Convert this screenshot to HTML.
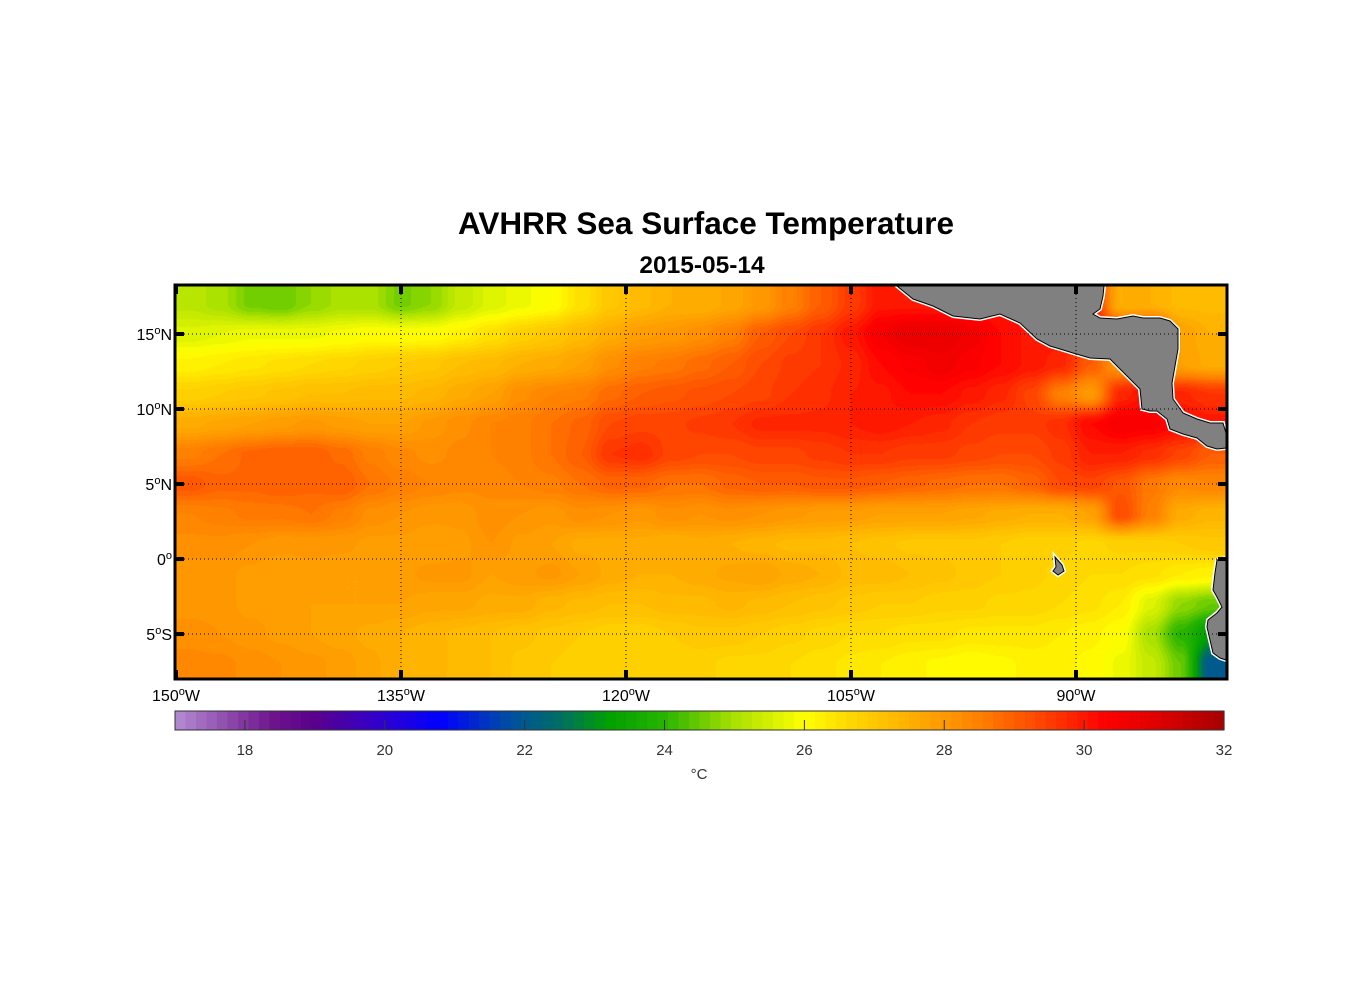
<!DOCTYPE html>
<html><head><meta charset="utf-8">
<style>
body{margin:0;background:#fff;width:1356px;height:1000px;position:relative;overflow:hidden;font-family:"Liberation Sans",Arial,sans-serif;}
.t{position:absolute;white-space:nowrap;color:#000;}
</style></head>
<body>
<div class="t" style="left:0;width:1412px;text-align:center;top:205px;font-size:31.5px;font-weight:bold;">AVHRR Sea Surface Temperature</div>
<div class="t" style="left:0;width:1404px;text-align:center;top:252px;font-size:24.5px;font-weight:bold;">2015-05-14</div>
<canvas id="map" width="1050" height="392" style="position:absolute;left:176px;top:286px;"></canvas>
<svg id="ov" width="1356" height="1000" style="position:absolute;left:0;top:0;"></svg>
<script>
const lons=[-149,-147,-145,-143,-141,-139,-137,-135,-133,-131,-129,-127,-125,-123,-121,-119,-117,-115,-113,-111,-109,-107,-105,-103,-101,-99,-97,-95,-93,-91,-89,-87,-85,-83,-81];
const lats=[17,15,13,11,9,7,5,3,1,-1,-3,-5,-7];
const sstLat17=[25.2,25.0,24.6,24.5,24.8,25.0,25.0,24.6,24.8,25.3,25.6,25.8,26.0,26.5,27.0,27.3,27.5,27.5,27.7,28.0,28.5,29.0,29.5,30.0,30,30,30,30,30,30,30,27.5,27.5,27.3,27.3];
const sstLat15=[25.6,25.7,25.8,25.8,25.8,25.9,26.0,26.0,26.0,26.2,26.5,26.8,27.0,27.3,27.6,27.9,28.0,28.2,28.5,29.0,29.3,29.6,30.0,30.5,30.8,30.8,30.6,30.2,30,30,30,30,30,27.8,27.5];
const sstLat13=[26.2,26.3,26.4,26.5,26.6,26.7,26.8,26.9,27.0,27.2,27.3,27.5,27.6,27.8,28.2,28.5,28.6,28.8,29.0,29.3,29.5,29.6,29.8,30.2,30.4,30.6,30.4,30.2,30.0,29.8,29.0,28.0,28,27.8,27.6];
const sstLat11=[26.8,26.9,27.0,27.1,27.2,27.2,27.3,27.3,27.4,27.6,27.8,28.2,28.4,28.5,28.8,29.0,29.1,29.2,29.3,29.4,29.6,29.7,29.9,30.0,30.2,30.2,30.0,29.8,29.4,28.5,28.0,29.8,30.2,29.8,29.6];
const sstLat9=[27.6,27.7,27.8,27.9,28.0,27.9,27.8,27.8,28.0,28.2,28.4,28.5,28.7,28.9,29.3,29.4,29.4,29.5,29.6,29.8,29.8,29.8,29.9,30.0,29.9,29.8,29.6,29.5,29.5,29.7,30.2,30.5,30.4,30.2,30.0];
const sstLat7=[28.5,28.7,28.9,29.0,29.0,28.8,28.5,28.3,28.2,28.3,28.4,28.5,28.7,29.0,29.6,29.7,29.4,29.3,29.3,29.4,29.4,29.5,29.6,29.6,29.5,29.5,29.4,29.3,29.3,29.5,29.9,29.9,29.7,29.4,29.0];
const sstLat5=[29.1,28.9,28.9,29.0,28.9,29.0,28.7,28.5,28.4,28.3,28.3,28.4,28.5,28.7,28.9,28.9,28.7,28.7,28.9,29.0,29.0,29.1,29.1,29.0,28.9,28.8,28.7,28.7,28.9,29.3,29.4,29.1,28.6,28.3,28.4];
const sstLat3=[28.4,28.5,28.6,28.6,28.7,28.5,28.2,28.1,28.0,28.0,28.2,28.1,28.0,28.2,28.1,28.0,28.2,28.1,28.2,28.1,28.0,27.9,27.9,27.8,27.8,27.8,27.7,27.6,27.5,27.5,27.8,29.3,28.5,27.6,27.4];
const sstLat1=[28.2,28.2,28.1,28.0,28.0,28.0,27.9,27.9,27.8,27.9,28.1,27.9,27.8,27.6,27.6,27.6,27.5,27.6,27.5,27.4,27.3,27.3,27.2,27.1,27.0,27.0,27.0,26.9,26.8,26.8,26.7,26.8,26.8,26.9,27.0];
const sstLatS1=[28.0,28.0,27.9,27.8,27.9,27.8,27.8,27.9,28.0,28.0,27.8,27.9,28.0,27.8,27.6,27.5,27.5,27.6,27.7,27.8,27.6,27.5,27.3,27.3,27.2,27.1,27.0,26.9,26.8,26.7,26.6,26.6,26.5,26.3,26.2];
const sstLatS3=[28.0,28.0,27.9,27.9,27.8,27.8,27.8,27.8,27.7,27.7,27.6,27.6,27.4,27.3,27.2,27.2,27.3,27.3,27.4,27.3,27.2,27.1,27.0,26.9,26.9,26.8,26.8,26.7,26.7,26.6,26.5,26.3,25.6,24.8,24.5];
const sstLatS5=[28.2,28.1,28.0,27.9,27.8,27.7,27.6,27.5,27.4,27.3,27.2,27.1,27.0,26.9,26.8,26.8,26.9,27.0,27.0,26.9,26.8,26.7,26.6,26.6,26.5,26.5,26.4,26.4,26.4,26.3,26.2,26.0,25.0,24.0,23.2];
const sstLatS7=[28.3,28.3,28.2,28.1,28.0,27.9,27.7,27.5,27.4,27.3,27.2,27.0,26.9,26.8,26.8,26.8,26.8,26.8,26.7,26.7,26.6,26.5,26.4,26.3,26.2,26.1,26.0,26.1,26.2,26.2,26.1,25.8,25.3,24.5,22.0];
const sst=[sstLat17,sstLat15,sstLat13,sstLat11,sstLat9,sstLat7,sstLat5,sstLat3,sstLat1,sstLatS1,sstLatS3,sstLatS5,sstLatS7];
const lonTicks=[-150,-135,-120,-105,-90];
const latTicks=[15,10,5,0,-5];
const cbTicks=[18,20,22,24,26,28,30,32];

const X0=176,X1=1226,Y0=286,Y1=678,LON0=-150,LON1=-80,LAT0=-7.93,LAT1=18.2;
const xs=lon=>X0+(lon-LON0)/(LON1-LON0)*(X1-X0);
const ys=lat=>Y1-(lat-LAT0)/(LAT1-LAT0)*(Y1-Y0);
const CB0=175,CB1=1224,CV0=17,CV1=32;
const cx=v=>CB0+(v-CV0)/(CV1-CV0)*(CB1-CB0);

const stops=[[17,[180,140,210]],[18.4,[110,20,140]],[19,[90,0,140]],[20,[45,0,210]],[20.8,[0,0,255]],[21.8,[0,80,160]],[22.5,[0,110,100]],[23.2,[0,160,0]],[24,[40,180,0]],[25,[170,225,0]],[26,[255,255,0]],[26.6,[255,218,0]],[27.5,[255,176,0]],[28.5,[255,128,0]],[29.5,[255,60,0]],[30.3,[255,0,0]],[31,[225,0,0]],[32,[165,0,0]]];
function cmap(v){
  v=Math.max(CV0,Math.min(CV1-0.001,v));
  v=CV0+(Math.floor((v-CV0)/0.15)+0.5)*0.15;
  for(let i=0;i<stops.length-1;i++){const a=stops[i],b=stops[i+1];if(v<=b[0]){const t=(v-a[0])/(b[0]-a[0]);return a[1].map((c,k)=>Math.round(c+(b[1][k]-c)*t));}}
  return stops[stops.length-1][1];
}
function sample(lon,lat){
  let fi=(lon-lons[0])/2, fj=(lats[0]-lat)/2;
  fi=Math.max(0,Math.min(lons.length-1.0001,fi)); fj=Math.max(0,Math.min(lats.length-1.0001,fj));
  const i=Math.floor(fi),j=Math.floor(fj),u=fi-i,w=fj-j;
  const s=t=>t*t*(3-2*t);const U=s(u),W=s(w);
  return sst[j][i]*(1-U)*(1-W)+sst[j][i+1]*U*(1-W)+sst[j+1][i]*(1-U)*W+sst[j+1][i+1]*U*W;
}
const cv=document.getElementById('map'),ctx=cv.getContext('2d');
const img=ctx.createImageData(1050,392);
for(let py=0;py<392;py++){for(let px=0;px<1050;px++){
  const lon=LON0+(px+0.5)/1050*(LON1-LON0), lat=LAT1-(py+0.5)/392*(LAT1-LAT0);
  const c=cmap(sample(lon,lat));const k=(py*1050+px)*4;
  img.data[k]=c[0];img.data[k+1]=c[1];img.data[k+2]=c[2];img.data[k+3]=255;}}
ctx.putImageData(img,0,0);

const NS='http://www.w3.org/2000/svg',ov=document.getElementById('ov');
function mk(tag,attrs,parent){const e=document.createElementNS(NS,tag);for(const k in attrs)e.setAttribute(k,attrs[k]);(parent||ov).appendChild(e);return e;}
const landCA=[[897,286],[913,299],[933,306],[953,316],[980,319],[1000,314],[1020,323],[1037,339],[1050,346],[1060,349],[1073,353],[1090,358],[1110,359],[1117,366],[1130,379],[1140,389],[1142,409],[1150,411],[1157,411],[1167,419],[1170,429],[1183,434],[1197,438],[1207,446],[1217,449],[1226,448],[1226,433],[1223,423],[1210,423],[1197,419],[1183,413],[1173,399],[1172,383],[1175,366],[1178,349],[1178,329],[1170,321],[1160,318],[1143,318],[1133,316],[1117,319],[1100,318],[1093,314],[1100,309],[1103,296],[1104,286]];
const landSA=[[1226,558],[1217,560],[1215,573],[1213,590],[1217,597],[1222,607],[1217,613],[1208,620],[1207,627],[1210,640],[1213,653],[1220,658],[1226,660]];
const landGal=[[1055,557],[1062,565],[1064,571],[1058,575],[1053,571],[1056,567]];
[landCA,landSA,landGal].forEach((p,i)=>{
  const pts=p.map(q=>q.join(',')).join(' ');
  const w=mk('polygon',{points:pts,fill:'none',stroke:'#fff','stroke-width':4});
  
  
  const g=mk('polygon',{points:pts,fill:'#808080',stroke:'#000','stroke-width':1});
  
  
});
lonTicks.slice(1).forEach(l=>{const e=mk('line',{x1:xs(l),x2:xs(l),y1:Y0,y2:Y1,stroke:'#000','stroke-width':1,'stroke-dasharray':'1 3'});
  
  });
latTicks.forEach(l=>{const e=mk('line',{x1:X0,x2:X1,y1:ys(l),y2:ys(l),stroke:'#000','stroke-width':1,'stroke-dasharray':'1 3'});
  
  });
const fr=mk('rect',{x:X0-1,y:Y0-1,width:X1-X0+2,height:Y1-Y0+2,fill:'none',stroke:'#000','stroke-width':3});


lonTicks.forEach(l=>{const x=xs(l);
  [[Y0,Y0+8],[Y1-8,Y1]].forEach(a=>{const t=mk('line',{x1:x,x2:x,y1:a[0],y2:a[1],stroke:'#000','stroke-width':4});
    
    });
  const tx=mk('text',{x:x,y:Y1+23,'text-anchor':'middle','font-size':16,'font-family':'Liberation Sans, sans-serif'});
  
  
  tx.innerHTML=Math.abs(l)+'<tspan dy="-6" font-size="11">o</tspan><tspan dy="6">W</tspan>';});
latTicks.forEach(l=>{const y=ys(l);
  [[X0,X0+8],[X1-8,X1]].forEach(a=>{const t=mk('line',{x1:a[0],x2:a[1],y1:y,y2:y,stroke:'#000','stroke-width':4});
    
    });
  const tx=mk('text',{x:X0-4,y:y+6,'text-anchor':'end','font-size':16,'font-family':'Liberation Sans, sans-serif'});
  
  
  tx.innerHTML=Math.abs(l)+'<tspan dy="-6" font-size="11">o</tspan><tspan dy="6">'+(l>0?'N':l<0?'S':'')+'</tspan>';});
for(let v=CV0;v<CV1-0.001;v+=0.15){const r=mk('rect',{x:cx(v),y:711,width:cx(v+0.15)-cx(v)+0.6,height:19,fill:'rgb('+cmap(v+0.075).join(',')+')'});
  
  }
const cbf=mk('rect',{x:CB0,y:711,width:CB1-CB0,height:19,fill:'none',stroke:'#333','stroke-width':1});


cbTicks.forEach(v=>{const x=cx(v);
  const t=mk('line',{x1:x,x2:x,y1:720,y2:730,stroke:'#333','stroke-width':1});
  
  
  const tx=mk('text',{x:x,y:755,'text-anchor':'middle','font-size':15,fill:'#333','font-family':'Liberation Sans, sans-serif'});
  
  
  tx.textContent=v;});
const ul=mk('text',{x:699,y:779,'text-anchor':'middle','font-size':15,fill:'#333','font-family':'Liberation Sans, sans-serif'});


ul.textContent='°C';
</script>
</body></html>
